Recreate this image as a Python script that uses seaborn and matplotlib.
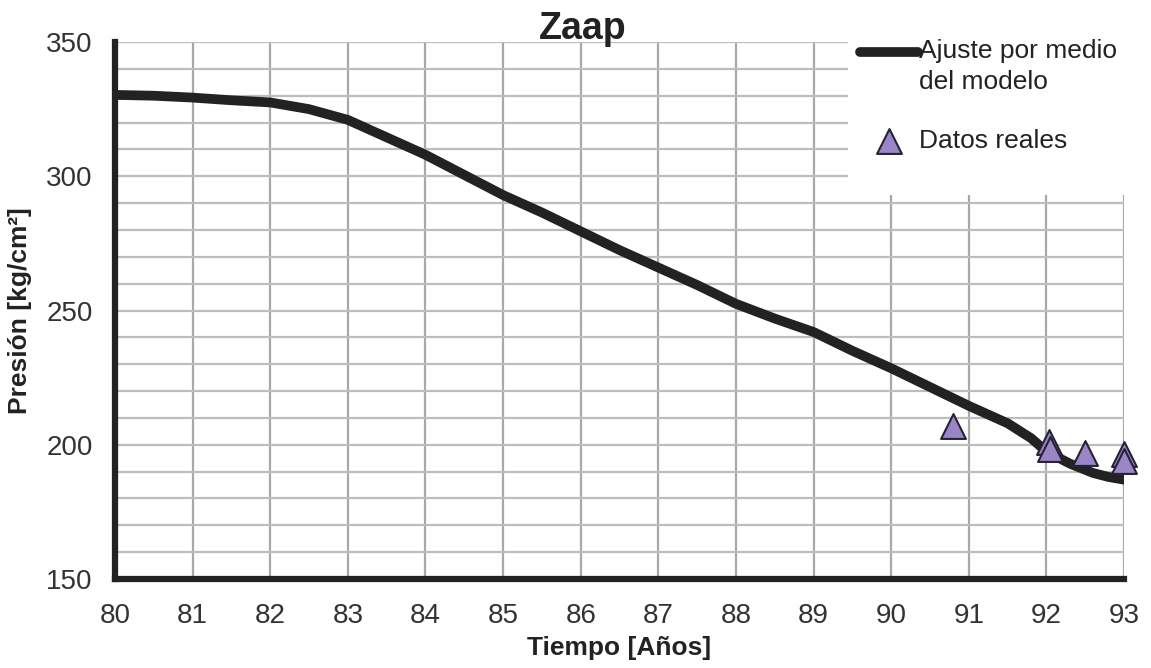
import numpy as np
import pandas as pd
import seaborn as sns
import matplotlib.pyplot as plt
from matplotlib.patches import Rectangle

# ajuste por medio del modelo
t_modelo = [80.0, 80.5, 81.0, 81.5, 82.0, 82.5, 83.0, 83.5, 84.0, 84.5,
            85.0, 85.5, 86.0, 86.5, 87.0, 87.5, 88.0, 88.5, 89.0, 89.5,
            90.0, 90.5, 91.0, 91.5, 91.8, 92.0, 92.3, 92.6, 92.8, 93.0]
p_modelo = [330.3, 330.0, 329.3, 328.3, 327.5, 325.0, 321.0, 314.5, 308.0, 300.5,
            293.0, 286.5, 279.5, 272.5, 266.0, 259.5, 252.5, 247.0, 242.0, 235.0,
            228.5, 221.5, 214.5, 208.0, 202.5, 197.5, 193.0, 189.5, 188.0, 187.0]

# datos reales
t_datos = [90.8, 92.03, 92.05, 92.5, 93.0, 93.0]
p_datos = [207.0, 201.0, 198.5, 197.0, 196.5, 194.0]

x_ticks = list(range(80, 94))
y_ticks = [150, 200, 250, 300, 350]

df_modelo = pd.DataFrame({'t': t_modelo, 'p': p_modelo})
df_datos = pd.DataFrame({'t': t_datos, 'p': p_datos})

sns.set_style('white')
plt.rcParams['font.family'] = ['Liberation Sans', 'DejaVu Sans']

fig = plt.figure(figsize=(11.51, 6.68), dpi=100)
ax = fig.add_axes([0.0999, 0.1332, 0.8767, 0.8039])

sns.lineplot(data=df_modelo, x='t', y='p', ax=ax, color='#222222', lw=7,
             label='Ajuste por medio\ndel modelo', zorder=3,
             solid_capstyle='round')
sns.scatterplot(data=df_datos, x='t', y='p', ax=ax, marker='^', s=320,
                color='#9a86c6', edgecolor='#262233', linewidth=1.5,
                label='Datos reales', zorder=4, clip_on=False)

ax.set_xlim(80, 93)
ax.set_ylim(150, 350)
ax.set_xticks(x_ticks)
ax.set_yticks(y_ticks)
ax.set_yticks(np.arange(160, 350, 10), minor=True)
ax.grid(True, which='major', axis='x', color='#a8a8a8', lw=1.6, zorder=0)
ax.grid(True, which='both', axis='y', color='#bdbdbd', lw=1.6, zorder=0)
ax.set_axisbelow(True)

# zona blanca detras de la leyenda
ax.add_patch(Rectangle((0.7265, 0.715), 0.3, 0.3, transform=ax.transAxes,
                       facecolor='white', edgecolor='none', zorder=2,
                       clip_on=False))

for s in ['top', 'right']:
    ax.spines[s].set_visible(False)
for s in ['left', 'bottom']:
    ax.spines[s].set_color('#222222')
    ax.spines[s].set_linewidth(4.5)
    ax.spines[s].set_zorder(5)

ax.tick_params(axis='both', which='major', direction='out', length=4,
               width=4, color='#222222', labelsize=20, labelcolor='#333333')
ax.tick_params(axis='y', which='minor', length=0)
ax.tick_params(axis='y', pad=12)
ax.tick_params(axis='x', pad=13)

ax.set_xlabel('Tiempo [Años]', fontsize=19, fontweight='bold',
              color='#222222', labelpad=5)
ax.set_ylabel('Presión [kg/cm²]', fontsize=19, fontweight='bold',
              color='#222222', labelpad=10)
fig.text(0.5065, 0.941, 'Zaap', ha='center', va='baseline', fontsize=27,
         fontweight='bold', color='#222222')

leg = ax.legend(loc='upper left', bbox_to_anchor=(860 / 1151, 1 - 39 / 668),
                bbox_transform=fig.transFigure, frameon=False,
                fontsize=19, handlelength=2.2, handletextpad=0.05,
                labelspacing=1.32, borderpad=0, borderaxespad=0,
                labelcolor='#222222')
leg.set_zorder(6)
for txt in leg.get_texts():
    txt.set_linespacing(1.38)
# linea de la leyenda a la altura del primer renglon
hl = leg.get_lines()[0]
hl.set_ydata(np.asarray(hl.get_ydata()) + 11)

fig.savefig('out.png', dpi=100)
